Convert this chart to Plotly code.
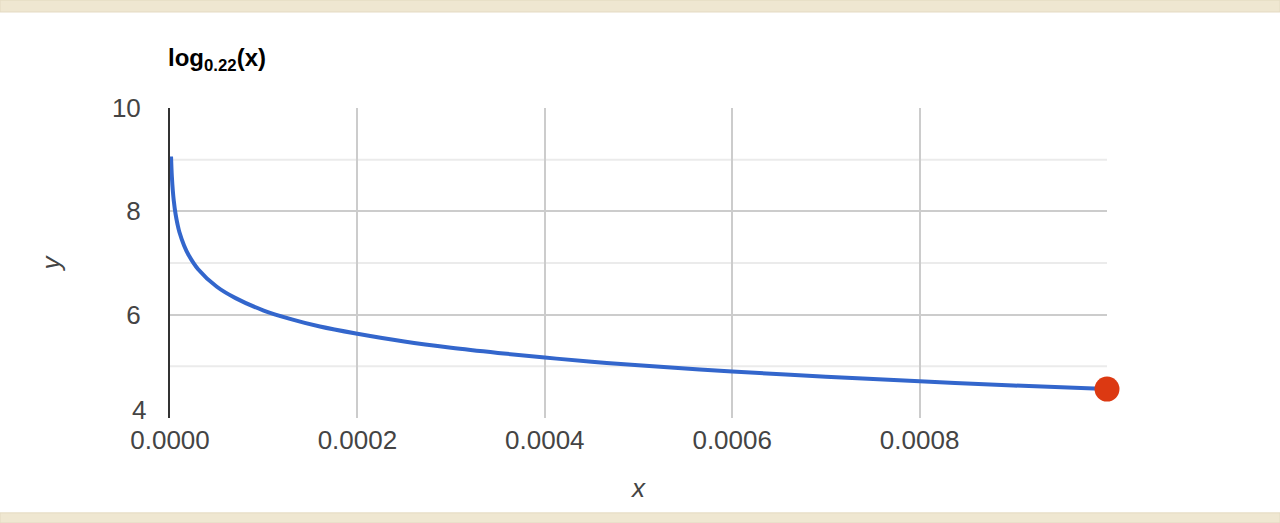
import plotly.graph_objects as go

x_vals = [0.0000011, 0.0000015, 0.000002, 0.000003, 0.000004, 0.000006, 0.000008,
          0.00001, 0.000015, 0.00002, 0.00003, 0.00005, 0.00007, 0.0001, 0.00013,
          0.00016, 0.0002, 0.00025, 0.0003, 0.00035, 0.0004, 0.00045, 0.0005,
          0.0006, 0.0007, 0.0008, 0.0009, 0.001]
y_vals = [9.06, 8.86, 8.67, 8.40, 8.21, 7.94, 7.75,
          7.60, 7.34, 7.15, 6.88, 6.54, 6.32, 6.08, 5.91,
          5.77, 5.63, 5.48, 5.36, 5.26, 5.17, 5.09, 5.02,
          4.90, 4.80, 4.71, 4.63, 4.56]
end_x = [0.001]
end_y = [4.56]

x_ticks = [0, 0.0002, 0.0004, 0.0006, 0.0008, 0.001]
x_ticktext = ["0.0000", "0.0002", "0.0004", "0.0006", "0.0008", ""]
y_ticks = [4, 6, 8, 10]
y_ticktext = ["", "6", "8", "10"]   # "4" is drawn lifted, see below
y_minor = [5, 7, 9]

font_family = "Liberation Sans Narrow, Liberation Sans, Arial, sans-serif"
tick_font = dict(family=font_family, size=26, color="#444444")

fig = go.Figure()

fig.add_trace(go.Scatter(
    x=x_vals, y=y_vals, mode="lines",
    line=dict(color="#3366cc", width=4, shape="spline"),
    hoverinfo="skip", showlegend=False,
))
fig.add_trace(go.Scatter(
    x=end_x, y=end_y, mode="markers",
    marker=dict(color="#dc3912", size=25),
    cliponaxis=False, showlegend=False,
))

# minor horizontal grid lines
for v in y_minor:
    fig.add_shape(type="line", xref="paper", yref="y", x0=0, x1=1, y0=v, y1=v,
                  line=dict(color="#ebebeb", width=2), layer="below")

# beige bands at top and bottom of the page
fig.add_shape(type="rect", xref="paper", yref="paper",
              x0=-0.1814, x1=1.1846, y0=1.3097, y1=1.348,
              fillcolor="#efe7d1", line=dict(color="#e4dbc2", width=1), layer="below")
fig.add_shape(type="rect", xref="paper", yref="paper",
              x0=-0.1814, x1=1.1846, y0=-0.3387, y1=-0.306,
              fillcolor="#efe7d1", line=dict(color="#e4dbc2", width=1), layer="below")

# lowest y label sits a bit above its tick, as in the original
fig.add_annotation(
    xref="paper", yref="y", x=0, y=y_ticks[0], xanchor="right", yanchor="middle",
    xshift=-22, yshift=8, text=str(y_ticks[0]), showarrow=False, font=tick_font,
)

fig.add_annotation(
    xref="paper", yref="paper", x=-0.004, y=1.155, xanchor="left", yanchor="middle",
    text="<b>log<sub>0.22</sub>(x)</b>", showarrow=False,
    font=dict(family="Liberation Sans, Arial, sans-serif", size=24, color="#000000"),
)

fig.update_xaxes(
    range=[0, 0.001], tickvals=x_ticks, ticktext=x_ticktext,
    showgrid=True, gridcolor="#cccccc", gridwidth=2,
    zeroline=False, showline=False,
    ticklabelstandoff=4,
    tickfont=tick_font,
    title=dict(text="<i>x</i>", font=dict(family=font_family, size=26, color="#444444"),
               standoff=24),
)
fig.update_yaxes(
    range=[4, 10], tickvals=y_ticks, ticktext=y_ticktext,
    showgrid=True, gridcolor="#cccccc", gridwidth=2,
    zeroline=False, showline=True, linecolor="#333333", linewidth=2,
    ticklabelstandoff=22,
    tickfont=tick_font,
    title=dict(text="<i>y</i>", font=dict(family=font_family, size=26, color="#444444"),
               standoff=44),
)

fig.update_layout(
    width=1280, height=523,
    margin=dict(l=170, r=173, t=108, b=105),
    paper_bgcolor="white", plot_bgcolor="white",
    showlegend=False,
)

fig.write_html("out.html", config={"displayModeBar": False},
               post_script="document.body.style.margin='0';")
